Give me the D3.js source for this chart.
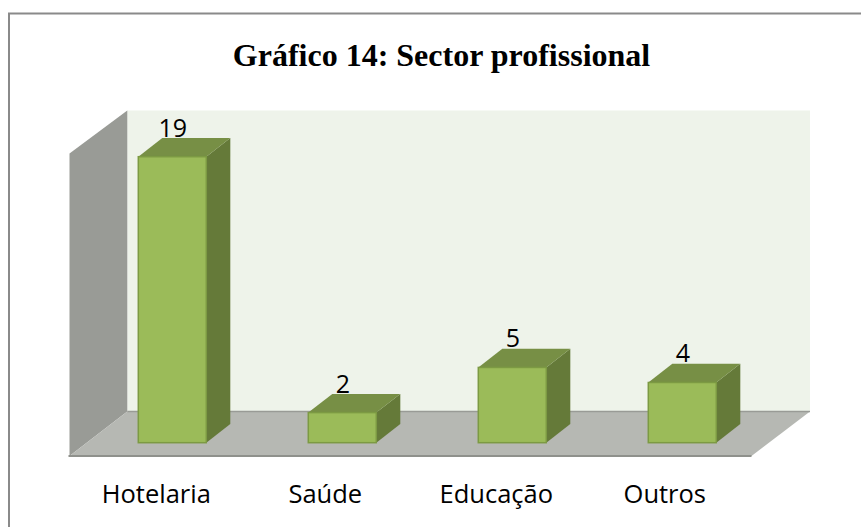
<!DOCTYPE html>
<html><head><meta charset="utf-8">
<script src="https://cdn.jsdelivr.net/npm/d3@7"></script>
<style>html,body{margin:0;padding:0;background:#fff}svg{display:block}</style>
</head><body><svg id="c" width="861" height="527"></svg>
<script>
const categories = ["Hotelaria","Saúde","Educação","Outros"];
const values = [19,2,5,4];
const titleText = "Gráfico 14: Sector profissional";

const svg = d3.select("#c");
const x = d3.scaleBand().domain(categories).range([87.3,767.3]).paddingInner(0.6).paddingOuter(0.3);
const y = d3.scaleLinear().domain([0,19]).range([442.7,156.7]);
const line = d3.line();

svg.append("rect").attr("x",0).attr("y",0).attr("width",861).attr("height",527).attr("fill","#fff");
svg.append("path").attr("d",line([[9,527],[9,13.5],[861,13.5]])).attr("fill","none").attr("stroke","#8a8a8a").attr("stroke-width",2);
svg.append("text").attr("x",441.5).attr("y",66).attr("text-anchor","middle")
  .attr("font-family","'Liberation Serif',serif").attr("font-weight","bold").attr("font-size",32).attr("fill","#000").text(titleText);

const [wl,wr,wt,fb,ff,fl,fr,wft]=[127.3,810,110.5,411.5,456,69.5,751.5,153.5];
svg.append("path").attr("d",line([[wl,wt],[wr,wt],[wr,fb],[wl,fb]])+"Z").attr("fill","#eef3ea");
svg.append("path").attr("d",line([[fl,wft],[wl,wt],[wl,fb],[fl,ff]])+"Z").attr("fill","#999b96");
svg.append("path").attr("d",line([[wl,fb],[wr,fb],[fr,ff],[fl,ff]])+"Z").attr("fill","#b6b8b3");
svg.append("path").attr("d",line([[wl,fb],[wr,fb]])).attr("stroke","#999b96").attr("stroke-width",1.5).attr("fill","none");
svg.append("path").attr("d",line([[fl-1,ff],[fr,ff]])).attr("stroke","#8f918c").attr("stroke-width",2).attr("fill","none");

const dx=24, dy=-18.7;
const labelOffsets=[-16,-17,-16,-17.5];
const g = svg.selectAll("g.bar").data(categories.map((c,i)=>({c,v:values[i],o:labelOffsets[i]}))).join("g").attr("class","bar");
g.append("path").attr("fill","#657a39").attr("d",d=>{const r=x(d.c)+x.bandwidth(),t=y(d.v),b=y(0);return line([[r,t],[r+dx,t+dy],[r+dx,b+dy],[r,b]])+"Z"});
g.append("path").attr("fill","#778f45").attr("d",d=>{const l=x(d.c),r=l+x.bandwidth(),t=y(d.v);return line([[l,t],[l+dx,t+dy],[r+dx,t+dy],[r,t]])+"Z"});
g.append("rect").attr("x",d=>x(d.c)).attr("y",d=>y(d.v)).attr("width",x.bandwidth()).attr("height",d=>y(0)-y(d.v))
  .attr("fill","#9bbb59").attr("stroke","#7c9a43").attr("stroke-width",1.5);
g.append("text").attr("x",d=>x(d.c)+x.bandwidth()/2+0.5).attr("y",d=>y(d.v)-20).attr("text-anchor","middle")
  .attr("font-family","'Open Sans',sans-serif").attr("font-size",25).attr("fill","#000").text(d=>d.v);
g.append("text").attr("x",d=>x(d.c)+x.bandwidth()/2+d.o).attr("y",503).attr("text-anchor","middle")
  .attr("font-family","'Open Sans',sans-serif").attr("font-size",25.5).attr("fill","#000").text(d=>d.c);
</script></body></html>
